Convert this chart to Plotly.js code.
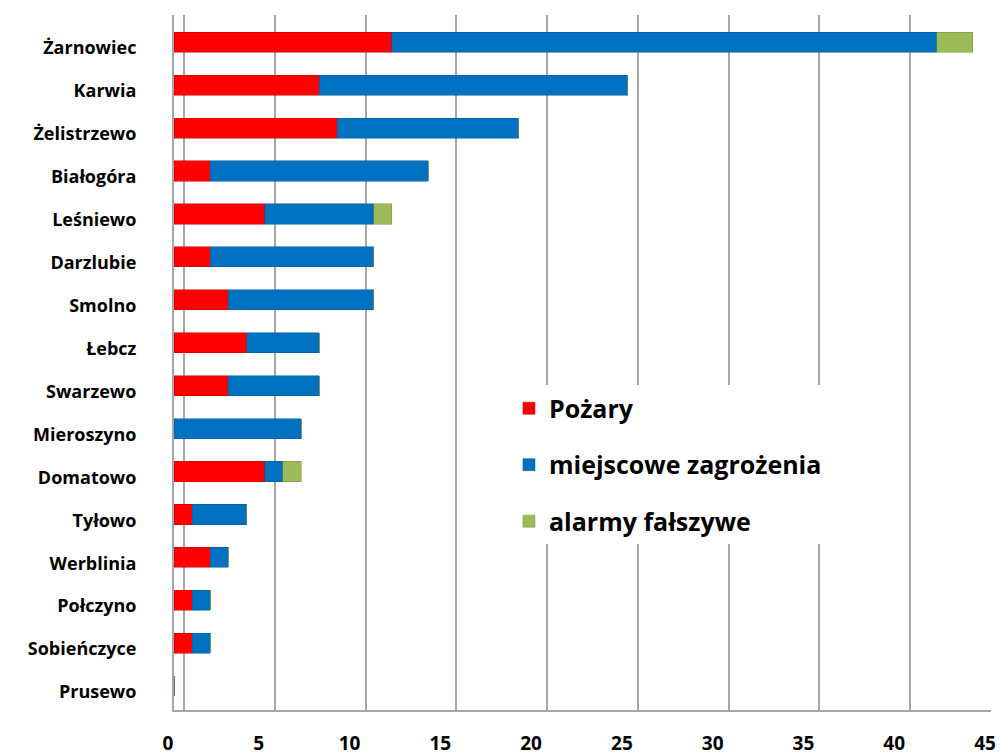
<!DOCTYPE html>
<html><head><meta charset="utf-8">
<script src="https://cdn.plot.ly/plotly-3.0.1.min.js"></script>
<style>html,body{margin:0;padding:0;background:#fff}#chart{width:1000px;height:756px}</style>
</head><body><div id="chart"></div>
<script>
const categories = ["Żarnowiec","Karwia","Żelistrzewo","Białogóra","Leśniewo","Darzlubie","Smolno","Łebcz","Swarzewo","Mieroszyno","Domatowo","Tyłowo","Werblinia","Połczyno","Sobieńczyce","Prusewo"];
const pozary = [12,8,9,2,5,2,3,4,3,0,5,1,2,1,1,0];
const zagrozenia = [30,17,10,12,6,9,8,4,5,7,1,3,1,1,1,0];
const alarmy = [2,0,0,0,1,0,0,0,0,0,1,0,0,0,0,0];
const seriesNames = ["Pożary","miejscowe zagrożenia","alarmy fałszywe"];
const xTicks = [0,5,10,15,20,25,30,35,40,45];

const colors = ["#FF0000","#0070C0","#9BBB59"];
const lines = ["#C00000","#005A9A","#76923C"];
const font = "'Open Sans', Lato, sans-serif";

const data = [pozary, zagrozenia, alarmy].map((vals, i) => ({
  type: "bar", orientation: "h",
  x: vals, y: categories, name: seriesNames[i],
  legendgroup: "g" + i,
  offset: -0.37, width: 0.47,
  marker: {color: colors[i], line: {color: lines[i], width: 0.5}},
  hoverinfo: "x+y+name"
}));

// overlay trace on shifted axis to carry back-wall gridlines
data.push({type:"scatter", x:[], y:[], xaxis:"x2", showlegend:false, hoverinfo:"skip"});

const layout = {
  width: 1000, height: 756,
  margin: {l: 174, r: 9, t: 15, b: 46},
  paper_bgcolor: "#fff", plot_bgcolor: "rgba(0,0,0,0)",
  barmode: "stack", bargap: 0.5,
  font: {family: font, color: "#000"},
  xaxis: {
    range: [0, 45], tickvals: xTicks, ticktext: xTicks.map(String),
    showgrid: false, zeroline: false,
    showline: true, linecolor: "#A6A6A6", linewidth: 2,
    ticks: "", ticklabelstandoff: 15, ticklabelshift: -6,
    tickfont: {size: 19, family: font, color: "#000", weight: "bold"}
  },
  xaxis2: {
    overlaying: "x", range: [-0.55, 44.45], tickvals: xTicks,
    showgrid: true, gridcolor: "#A6A6A6", gridwidth: 2,
    showticklabels: false, zeroline: false, ticks: ""
  },
  yaxis: {
    type: "category", range: [15.42, -0.77],
    showgrid: false, zeroline: false,
    showline: true, linecolor: "#A6A6A6", linewidth: 2,
    ticks: "", ticklabelstandoff: 32,
    tickfont: {size: 18, family: font, color: "#000", weight: "bold"}
  },
  legend: {
    x: 0.41, y: 0.467, xanchor: "left", yanchor: "top",
    bgcolor: "#fff", borderwidth: 0,
    font: {size: 25, family: font, color: "#000", weight: "bold"},
    traceorder: "grouped", tracegroupgap: 21,
    itemwidth: 30
  },
  showlegend: true
};

Plotly.newPlot("chart", data, layout, {displayModeBar: false, staticPlot: true});
</script></body></html>
